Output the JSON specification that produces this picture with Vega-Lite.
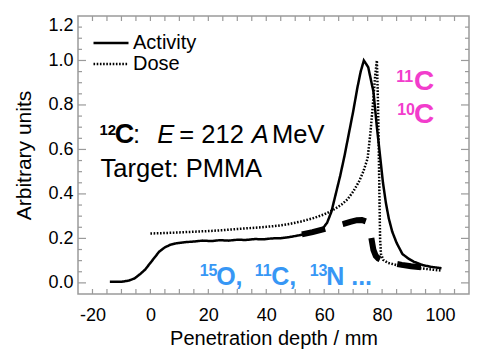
{
  "$schema": "https://vega.github.io/schema/vega-lite/v6.json",
  "width": 391,
  "height": 278,
  "autosize": "none",
  "padding": {"left": 78, "top": 16, "right": 12, "bottom": 67},
  "background": "white",
  "config": {
    "font": "Liberation Sans",
    "view": {"stroke": "#9a9a9a", "strokeWidth": 1.5},
    "axis": {
      "grid": false,
      "domain": false,
      "labelColor": "#000",
      "labelFont": "Liberation Sans",
      "titleFont": "Liberation Sans",
      "titleFontWeight": "normal",
      "titleColor": "#000"
    },
    "text": {"font": "Liberation Sans", "align": "left", "baseline": "alphabetic"}
  },
  "datasets": {
    "curves": [
      {"depth": -14, "value": 0.005, "series": "Activity"},
      {"depth": -10, "value": 0.005, "series": "Activity"},
      {"depth": -7.5, "value": 0.01, "series": "Activity"},
      {"depth": -5.5, "value": 0.02, "series": "Activity"},
      {"depth": -3.5, "value": 0.04, "series": "Activity"},
      {"depth": -1.8, "value": 0.06, "series": "Activity"},
      {"depth": 0, "value": 0.09, "series": "Activity"},
      {"depth": 1.5, "value": 0.115, "series": "Activity"},
      {"depth": 3, "value": 0.14, "series": "Activity"},
      {"depth": 5, "value": 0.16, "series": "Activity"},
      {"depth": 7, "value": 0.172, "series": "Activity"},
      {"depth": 9, "value": 0.178, "series": "Activity"},
      {"depth": 12, "value": 0.183, "series": "Activity"},
      {"depth": 15, "value": 0.186, "series": "Activity"},
      {"depth": 18, "value": 0.19, "series": "Activity"},
      {"depth": 21, "value": 0.188, "series": "Activity"},
      {"depth": 24, "value": 0.192, "series": "Activity"},
      {"depth": 27, "value": 0.19, "series": "Activity"},
      {"depth": 30, "value": 0.194, "series": "Activity"},
      {"depth": 33, "value": 0.193, "series": "Activity"},
      {"depth": 36, "value": 0.197, "series": "Activity"},
      {"depth": 39, "value": 0.196, "series": "Activity"},
      {"depth": 42, "value": 0.2, "series": "Activity"},
      {"depth": 45, "value": 0.201, "series": "Activity"},
      {"depth": 48, "value": 0.206, "series": "Activity"},
      {"depth": 51, "value": 0.213, "series": "Activity"},
      {"depth": 54, "value": 0.222, "series": "Activity"},
      {"depth": 57, "value": 0.232, "series": "Activity"},
      {"depth": 59.5, "value": 0.245, "series": "Activity"},
      {"depth": 61, "value": 0.27, "series": "Activity"},
      {"depth": 62.5, "value": 0.32, "series": "Activity"},
      {"depth": 64, "value": 0.4, "series": "Activity"},
      {"depth": 65.5, "value": 0.48, "series": "Activity"},
      {"depth": 67, "value": 0.57, "series": "Activity"},
      {"depth": 68.5, "value": 0.67, "series": "Activity"},
      {"depth": 70, "value": 0.77, "series": "Activity"},
      {"depth": 71.5, "value": 0.88, "series": "Activity"},
      {"depth": 72.6, "value": 0.95, "series": "Activity"},
      {"depth": 73.7, "value": 1.0, "series": "Activity"},
      {"depth": 75.2, "value": 0.97, "series": "Activity"},
      {"depth": 77, "value": 0.86, "series": "Activity"},
      {"depth": 78.2, "value": 0.7, "series": "Activity"},
      {"depth": 79.3, "value": 0.57, "series": "Activity"},
      {"depth": 80.3, "value": 0.45, "series": "Activity"},
      {"depth": 81.3, "value": 0.36, "series": "Activity"},
      {"depth": 82.3, "value": 0.29, "series": "Activity"},
      {"depth": 83.5, "value": 0.23, "series": "Activity"},
      {"depth": 85, "value": 0.18, "series": "Activity"},
      {"depth": 87, "value": 0.13, "series": "Activity"},
      {"depth": 89, "value": 0.11, "series": "Activity"},
      {"depth": 91, "value": 0.095, "series": "Activity"},
      {"depth": 94, "value": 0.08, "series": "Activity"},
      {"depth": 97, "value": 0.072, "series": "Activity"},
      {"depth": 100.5, "value": 0.066, "series": "Activity"},
      {"depth": 0, "value": 0.222, "series": "Dose"},
      {"depth": 5, "value": 0.224, "series": "Dose"},
      {"depth": 10, "value": 0.227, "series": "Dose"},
      {"depth": 15, "value": 0.23, "series": "Dose"},
      {"depth": 20, "value": 0.233, "series": "Dose"},
      {"depth": 25, "value": 0.237, "series": "Dose"},
      {"depth": 30, "value": 0.242, "series": "Dose"},
      {"depth": 35, "value": 0.247, "series": "Dose"},
      {"depth": 40, "value": 0.252, "series": "Dose"},
      {"depth": 44, "value": 0.257, "series": "Dose"},
      {"depth": 48, "value": 0.265, "series": "Dose"},
      {"depth": 52, "value": 0.276, "series": "Dose"},
      {"depth": 56, "value": 0.29, "series": "Dose"},
      {"depth": 60, "value": 0.308, "series": "Dose"},
      {"depth": 63, "value": 0.327, "series": "Dose"},
      {"depth": 66, "value": 0.352, "series": "Dose"},
      {"depth": 68, "value": 0.375, "series": "Dose"},
      {"depth": 70, "value": 0.41, "series": "Dose"},
      {"depth": 72, "value": 0.455, "series": "Dose"},
      {"depth": 73.5, "value": 0.5, "series": "Dose"},
      {"depth": 75, "value": 0.56, "series": "Dose"},
      {"depth": 76, "value": 0.68, "series": "Dose"},
      {"depth": 76.8, "value": 0.8, "series": "Dose"},
      {"depth": 77.6, "value": 0.93, "series": "Dose"},
      {"depth": 78.2, "value": 1.0, "series": "Dose"},
      {"depth": 78.6, "value": 0.8, "series": "Dose"},
      {"depth": 78.9, "value": 0.55, "series": "Dose"},
      {"depth": 79.1, "value": 0.37, "series": "Dose"},
      {"depth": 79.3, "value": 0.2, "series": "Dose"},
      {"depth": 79.6, "value": 0.13, "series": "Dose"},
      {"depth": 80.4, "value": 0.103, "series": "Dose"},
      {"depth": 82, "value": 0.09, "series": "Dose"},
      {"depth": 85, "value": 0.08, "series": "Dose"},
      {"depth": 88, "value": 0.074, "series": "Dose"},
      {"depth": 93, "value": 0.066, "series": "Dose"},
      {"depth": 97, "value": 0.06, "series": "Dose"},
      {"depth": 100.6, "value": 0.055, "series": "Dose"}
    ],
    "isotopes": [
      {"depth": 52.3, "value": 0.218},
      {"depth": 56, "value": 0.228},
      {"depth": 60.3, "value": 0.243},
      {"depth": 63.5, "value": 0.254},
      {"depth": 66.7, "value": 0.265},
      {"depth": 69, "value": 0.274},
      {"depth": 71.3, "value": 0.282},
      {"depth": 73, "value": 0.283},
      {"depth": 74.7, "value": 0.275},
      {"depth": 75.8, "value": 0.24},
      {"depth": 76.4, "value": 0.193},
      {"depth": 77, "value": 0.148},
      {"depth": 77.8, "value": 0.122},
      {"depth": 78.7, "value": 0.11},
      {"depth": 80.4, "value": 0.099},
      {"depth": 83, "value": 0.09},
      {"depth": 86.8, "value": 0.081},
      {"depth": 90, "value": 0.075},
      {"depth": 94, "value": 0.069}
    ],
    "xticks": [
      {"v": -20}, {"v": -15}, {"v": -10}, {"v": -5}, {"v": 0}, {"v": 5}, {"v": 10}, {"v": 15},
      {"v": 20}, {"v": 25}, {"v": 30}, {"v": 35}, {"v": 40}, {"v": 45}, {"v": 50}, {"v": 55},
      {"v": 60}, {"v": 65}, {"v": 70}, {"v": 75}, {"v": 80}, {"v": 85}, {"v": 90}, {"v": 95},
      {"v": 100}, {"v": 105}
    ],
    "yminor": [
      {"v": 0.05}, {"v": 0.1}, {"v": 0.15}, {"v": 0.25}, {"v": 0.3}, {"v": 0.35}, {"v": 0.45},
      {"v": 0.5}, {"v": 0.55}, {"v": 0.65}, {"v": 0.7}, {"v": 0.75}, {"v": 0.85}, {"v": 0.9},
      {"v": 0.95}, {"v": 1.05}, {"v": 1.1}, {"v": 1.15}
    ],
    "ymajor": [
      {"v": 0}, {"v": 0.2}, {"v": 0.4}, {"v": 0.6}, {"v": 0.8}, {"v": 1.0}
    ],
    "notes": [
      {"x": -17.6, "y": 0.667, "t": "12", "k": "sup"},
      {"x": -12.3, "y": 0.628, "t": "C", "k": "big"},
      {"x": -6.0, "y": 0.628, "t": ":", "k": "reg"},
      {"x": 2.4, "y": 0.628, "t": "E", "k": "ital"},
      {"x": 10, "y": 0.628, "t": "= 212", "k": "reg"},
      {"x": 35, "y": 0.628, "t": "A", "k": "ital"},
      {"x": 42, "y": 0.628, "t": "MeV", "k": "reg"},
      {"x": -17.2, "y": 0.476, "t": "Target: PMMA", "k": "reg"},
      {"x": 84.9, "y": 0.905, "t": "11", "k": "pinkSup"},
      {"x": 85.2, "y": 0.756, "t": "10", "k": "pinkSup"},
      {"x": 91.0, "y": 0.867, "t": "C", "k": "pink"},
      {"x": 91.0, "y": 0.718, "t": "C", "k": "pink"},
      {"x": 17.0, "y": 0.029, "t": "15", "k": "blueSup"},
      {"x": 36.0, "y": 0.029, "t": "11", "k": "blueSup"},
      {"x": 55.0, "y": 0.029, "t": "13", "k": "blueSup"},
      {"x": 22.7, "y": -0.01, "t": "O,", "k": "blue"},
      {"x": 41.7, "y": -0.01, "t": "C,", "k": "blue"},
      {"x": 60.7, "y": -0.01, "t": "N ...", "k": "blue"}
    ]
  },
  "layer": [
    {
      "data": {"name": "curves"},
      "mark": {"type": "line", "color": "#000", "strokeWidth": 2.5},
      "encoding": {
        "x": {
          "field": "depth", "type": "quantitative",
          "scale": {"domain": [-25, 110], "nice": false, "zero": false},
          "axis": {
            "orient": "bottom", "values": [-20, 0, 20, 40, 60, 80, 100],
            "labelExpr": "replace(datum.label, '\u2212', '-')",
            "ticks": false, "labelFontSize": 18, "labelPadding": 12,
            "title": "Penetration depth / mm", "titleFontSize": 20, "titlePadding": 4
          }
        },
        "y": {
          "field": "value", "type": "quantitative",
          "scale": {"domain": [-0.05, 1.2], "nice": false, "zero": false},
          "axis": {
            "orient": "left", "values": [0, 0.2, 0.4, 0.6, 0.8, 1.0, 1.2], "format": ".1f",
            "ticks": false, "labelFontSize": 18, "labelPadding": 5, "labelFlush": true,
            "title": "Arbitrary units", "titleFontSize": 21, "titlePadding": 13
          }
        },
        "strokeDash": {
          "field": "series", "type": "nominal",
          "scale": {"domain": ["Activity", "Dose"], "range": [[1, 0], [1.6, 1.6]]},
          "legend": {
            "orient": "none", "legendX": 14, "legendY": 17.5, "title": null,
            "padding": 0, "rowPadding": 0, "clipHeight": 19, "labelFontSize": 20, "labelOffset": 3,
            "labelColor": "#000", "labelFont": "Liberation Sans",
            "symbolType": "stroke", "symbolSize": 1225, "symbolStrokeWidth": 2.5,
            "symbolStrokeColor": "#000"
          }
        }
      }
    },
    {
      "data": {"name": "isotopes"},
      "mark": {"type": "line", "color": "#000", "strokeWidth": 6, "strokeDash": [24, 18], "strokeCap": "butt"},
      "encoding": {
        "x": {"field": "depth", "type": "quantitative"},
        "y": {"field": "value", "type": "quantitative"}
      }
    },
    {
      "data": {"name": "xticks"},
      "mark": {"type": "tick", "orient": "vertical", "size": 10, "thickness": 1.2, "color": "#9a9a9a", "opacity": 1, "clip": true},
      "encoding": {
        "x": {"field": "v", "type": "quantitative"},
        "y": {"datum": -0.05, "type": "quantitative"}
      }
    },
    {
      "data": {"name": "xticks"},
      "mark": {"type": "tick", "orient": "vertical", "size": 10, "thickness": 1.2, "color": "#9a9a9a", "opacity": 1, "clip": true},
      "encoding": {
        "x": {"field": "v", "type": "quantitative"},
        "y": {"datum": 1.2, "type": "quantitative"}
      }
    },
    {
      "data": {"name": "yminor"},
      "mark": {"type": "tick", "orient": "horizontal", "size": 8, "thickness": 1.2, "color": "#9a9a9a", "opacity": 1, "clip": true},
      "encoding": {
        "x": {"datum": -25, "type": "quantitative"},
        "y": {"field": "v", "type": "quantitative"}
      }
    },
    {
      "data": {"name": "yminor"},
      "mark": {"type": "tick", "orient": "horizontal", "size": 8, "thickness": 1.2, "color": "#9a9a9a", "opacity": 1, "clip": true},
      "encoding": {
        "x": {"datum": 110, "type": "quantitative"},
        "y": {"field": "v", "type": "quantitative"}
      }
    },
    {
      "data": {"name": "ymajor"},
      "mark": {"type": "tick", "orient": "horizontal", "size": 16, "thickness": 1.2, "color": "#9a9a9a", "opacity": 1, "clip": true},
      "encoding": {
        "x": {"datum": -25, "type": "quantitative"},
        "y": {"field": "v", "type": "quantitative"}
      }
    },
    {
      "data": {"name": "ymajor"},
      "mark": {"type": "tick", "orient": "horizontal", "size": 16, "thickness": 1.2, "color": "#9a9a9a", "opacity": 1, "clip": true},
      "encoding": {
        "x": {"datum": 110, "type": "quantitative"},
        "y": {"field": "v", "type": "quantitative"}
      }
    },
    {
      "data": {"name": "notes"},
      "transform": [{"filter": "datum.k === 'reg'"}],
      "mark": {"type": "text", "fontSize": 25.5, "color": "#000"},
      "encoding": {
        "x": {"field": "x", "type": "quantitative"},
        "y": {"field": "y", "type": "quantitative"},
        "text": {"field": "t"}
      }
    },
    {
      "data": {"name": "notes"},
      "transform": [{"filter": "datum.k === 'ital'"}],
      "mark": {"type": "text", "fontSize": 25.5, "fontStyle": "italic", "color": "#000"},
      "encoding": {
        "x": {"field": "x", "type": "quantitative"},
        "y": {"field": "y", "type": "quantitative"},
        "text": {"field": "t"}
      }
    },
    {
      "data": {"name": "notes"},
      "transform": [{"filter": "datum.k === 'big'"}],
      "mark": {"type": "text", "fontSize": 27, "fontWeight": "bold", "color": "#000"},
      "encoding": {
        "x": {"field": "x", "type": "quantitative"},
        "y": {"field": "y", "type": "quantitative"},
        "text": {"field": "t"}
      }
    },
    {
      "data": {"name": "notes"},
      "transform": [{"filter": "datum.k === 'sup'"}],
      "mark": {"type": "text", "fontSize": 15, "fontWeight": "bold", "color": "#000"},
      "encoding": {
        "x": {"field": "x", "type": "quantitative"},
        "y": {"field": "y", "type": "quantitative"},
        "text": {"field": "t"}
      }
    },
    {
      "data": {"name": "notes"},
      "transform": [{"filter": "datum.k === 'pink'"}],
      "mark": {"type": "text", "fontSize": 28, "fontWeight": "bold", "color": "#f23dcc"},
      "encoding": {
        "x": {"field": "x", "type": "quantitative"},
        "y": {"field": "y", "type": "quantitative"},
        "text": {"field": "t"}
      }
    },
    {
      "data": {"name": "notes"},
      "transform": [{"filter": "datum.k === 'pinkSup'"}],
      "mark": {"type": "text", "fontSize": 16, "fontWeight": "bold", "color": "#f23dcc"},
      "encoding": {
        "x": {"field": "x", "type": "quantitative"},
        "y": {"field": "y", "type": "quantitative"},
        "text": {"field": "t"}
      }
    },
    {
      "data": {"name": "notes"},
      "transform": [{"filter": "datum.k === 'blue'"}],
      "mark": {"type": "text", "fontSize": 25, "fontWeight": "bold", "color": "#3797f5"},
      "encoding": {
        "x": {"field": "x", "type": "quantitative"},
        "y": {"field": "y", "type": "quantitative"},
        "text": {"field": "t"}
      }
    },
    {
      "data": {"name": "notes"},
      "transform": [{"filter": "datum.k === 'blueSup'"}],
      "mark": {"type": "text", "fontSize": 16, "fontWeight": "bold", "color": "#3797f5"},
      "encoding": {
        "x": {"field": "x", "type": "quantitative"},
        "y": {"field": "y", "type": "quantitative"},
        "text": {"field": "t"}
      }
    }
  ]
}
